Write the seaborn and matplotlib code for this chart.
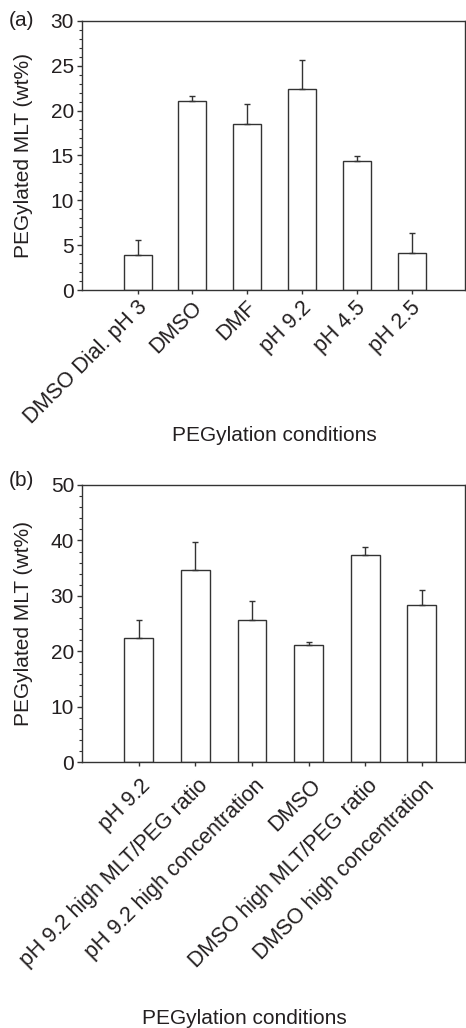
import matplotlib
matplotlib.use("Agg")
import matplotlib.pyplot as plt
from matplotlib.ticker import AutoMinorLocator, MultipleLocator
from matplotlib.transforms import ScaledTranslation
import seaborn as sns
import numpy as np

# ---- data ----
cats_a = ["DMSO Dial. pH 3", "DMSO", "DMF", "pH 9.2", "pH 4.5", "pH 2.5"]
vals_a = [3.9, 21.1, 18.5, 22.4, 14.4, 4.1]
errs_a = [1.7, 0.55, 2.2, 3.3, 0.5, 2.3]

cats_b = ["pH 9.2", "pH 9.2 high MLT/PEG ratio", "pH 9.2 high concentration",
          "DMSO", "DMSO high MLT/PEG ratio", "DMSO high concentration"]
vals_b = [22.4, 34.7, 25.6, 21.1, 37.3, 28.3]
errs_b = [3.3, 5.1, 3.4, 0.55, 1.45, 2.8]

ylabel = "PEGylated MLT (wt%)"
xlabel = "PEGylation conditions"

sns.set_style("ticks")
plt.rcParams["font.family"] = ["Liberation Sans", "DejaVu Sans"]
TXT = "#231f20"
LN = "#333333"
plt.rcParams["text.color"] = TXT
plt.rcParams["axes.labelcolor"] = TXT
plt.rcParams["xtick.color"] = LN
plt.rcParams["ytick.color"] = LN
plt.rcParams["xtick.labelcolor"] = TXT
plt.rcParams["ytick.labelcolor"] = TXT

W, H = 466, 1028
fig = plt.figure(figsize=(W / 100, H / 100), dpi=100)


def axes_px(left, top, right, bottom):
    return fig.add_axes([left / W, 1 - bottom / H, (right - left) / W, (bottom - top) / H])


def panel(ax, cats, vals, errs, ymax, major, xlim, xlab_pos, ylab_pos, lab_shift):
    sns.barplot(x=cats, y=vals, ax=ax, color="white", edgecolor=LN,
                linewidth=1.0, width=0.51, errorbar=None, saturation=1)
    ax.errorbar(np.arange(len(cats)), vals, yerr=[np.zeros(len(errs)), errs],
                fmt="none", ecolor=LN, elinewidth=1.0, capsize=2.5, capthick=1.0)
    ax.set_ylim(0, ymax)
    ax.set_xlim(*xlim)
    ax.yaxis.set_major_locator(MultipleLocator(major))
    ax.yaxis.set_minor_locator(AutoMinorLocator(5))
    for s in ax.spines.values():
        s.set_color(LN)
        s.set_linewidth(1.0)
        s.set_visible(True)
    ax.tick_params(axis="y", which="major", direction="out", length=3.5, width=1, labelsize=15, pad=2)
    ax.tick_params(axis="y", which="minor", direction="out", length=2, width=0.8)
    ax.tick_params(axis="x", which="major", direction="out", length=3, width=1, labelsize=15.5, pad=3)
    ax.set_xticks(np.arange(len(cats)))
    ax.set_xticklabels(cats, rotation=45, ha="right", va="center", rotation_mode="anchor")
    off = ScaledTranslation(lab_shift[0] / 100, -lab_shift[1] / 100, fig.dpi_scale_trans)
    for lab in ax.get_xticklabels():
        lab.set_transform(lab.get_transform() + off)
    ax.set_ylabel(ylabel, fontsize=15)
    ax.yaxis.set_label_coords(*ylab_pos)
    ax.yaxis.label.set_va("center")
    ax.set_xlabel(xlabel, fontsize=15)
    ax.xaxis.set_label_coords(*xlab_pos)
    ax.xaxis.label.set_va("center")


ax_a = axes_px(81.7, 21, 465.3, 290)
panel(ax_a, cats_a, vals_a, errs_a, 30, 5, (-1.02, 5.98), (0.501, -0.54), (-0.153, 0.5), (6, 6))

ax_b = axes_px(81.7, 485, 465.3, 762.3)
panel(ax_b, cats_b, vals_b, errs_b, 50, 10, (-1.01, 5.77), (0.423, -0.925), (-0.153, 0.5), (9, 12))

fig.text(21.5 / W, 1 - 20 / H, "(a)", fontsize=15, ha="center", va="center")
fig.text(21.5 / W, 1 - 481 / H, "(b)", fontsize=15, ha="center", va="center")

fig.savefig("out.png", dpi=100, facecolor="white")
